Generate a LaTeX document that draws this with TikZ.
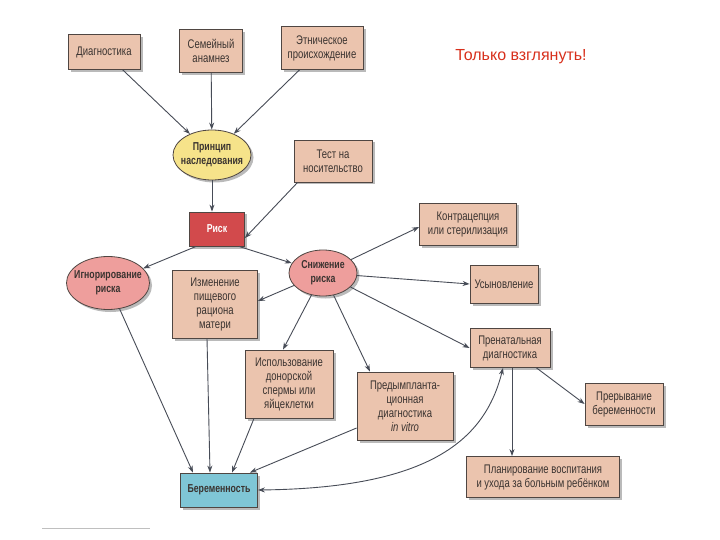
\documentclass[tikz,border=0pt]{standalone}
\usepackage{fontspec}
\setmainfont[FakeStretch=0.76]{Liberation Sans}
\newfontfamily\notefont{Liberation Sans}
\usetikzlibrary{shapes.geometric,shadows,arrows.meta,calc}
\definecolor{boxfill}{HTML}{EBC4AE}
\definecolor{boxline}{HTML}{4F4642}
\definecolor{yellowfill}{HTML}{F6E38A}
\definecolor{pinkfill}{HTML}{EE9E9C}
\definecolor{redfill}{HTML}{D24A4C}
\definecolor{bluefill}{HTML}{7FC6D6}
\definecolor{edgecol}{HTML}{474C57}
\definecolor{txt}{HTML}{3A3330}
\definecolor{notecol}{HTML}{D8301C}
\begin{document}
\begin{tikzpicture}[x=1pt,y=-1pt,
  shad/.style={drop shadow={shadow xshift=2.5pt,shadow yshift=-2.5pt,fill=black!45,opacity=0.6}},
  box/.style={draw=boxline,line width=0.8pt,fill=boxfill,shad,align=center,inner sep=1pt,
    font=\fontsize{12.5}{14}\selectfont,text=txt},
  ell/.style={ellipse,draw=boxline,line width=0.8pt,shad,inner sep=0pt},
  elltext/.style={align=center,font=\bfseries\fontsize{11.5}{14}\selectfont,text=txt},
  conn/.style={draw=edgecol,line width=0.9pt,-{Stealth[length=7pt,width=5pt]}}]
\useasboundingbox (0,0) rectangle (720,540);
\fill[white] (0,0) rectangle (720,540);

% top row
\node[box,minimum width=72pt,minimum height=35pt] (diag) at (104,52) {Диагностика};
\node[box,minimum width=63pt,minimum height=43pt] (fam) at (211,51) {Семейный\\анамнез};
\node[box,minimum width=82pt,minimum height=43pt] (eth) at (322,48) {Этническое\\происхождение};

\node[ell,fill=yellowfill,minimum width=78pt,minimum height=50pt] (princ) at (212,155) {};
\node[elltext] (princt) at (princ) {Принцип\\наследования};
\node[box,minimum width=78pt,minimum height=42pt] (test) at (333,161) {Тест на\\носительство};

\node[box,fill=redfill,minimum width=55pt,minimum height=34pt,text=white,font=\bfseries\fontsize{11.5}{14}\selectfont] (risk) at (217,229) {Риск};
\node[box,minimum width=97pt,minimum height=42pt] (cont) at (468,224) {Контрацепция\\или стерилизация};

\node[ell,fill=pinkfill,minimum width=83pt,minimum height=53pt] (ign) at (108,283) {};
\node[elltext] (ignt) at (ign) {Игнорирование\\риска};
\node[ell,fill=pinkfill,minimum width=68pt,minimum height=46pt] (snizh) at (323,273) {};
\node[elltext] (snizht) at (snizh) {Снижение\\риска};

\node[box,minimum width=85pt,minimum height=68pt] (izm) at (215,304) {Изменение\\пищевого\\рациона\\матери};
\node[box,minimum width=68pt,minimum height=38pt] (usyn) at (504,284) {Усыновление};
\node[box,minimum width=80pt,minimum height=39pt] (pren) at (510,348) {Пренатальная\\диагностика};
\node[box,minimum width=78pt,minimum height=42pt] (prer) at (624,404) {Прерывание\\беременности};
\node[box,minimum width=88pt,minimum height=68pt] (isp) at (289,384) {Использование\\донорской\\спермы или\\яйцеклетки};
\node[box,minimum width=96pt,minimum height=68pt] (pred) at (405,406) {Предымпланта-\\ционная\\диагностика\\\textit{in vitro}};
\node[box,minimum width=153pt,minimum height=41pt] (plan) at (543,477) {Планирование воспитания\\и ухода за больным ребёнком};
\node[box,fill=bluefill,minimum width=77pt,minimum height=34pt,font=\bfseries\fontsize{11.5}{14}\selectfont] (bere) at (219,490) {Беременность};

\node[font=\notefont\fontsize{16}{18}\selectfont,text=notecol] (note) at (521,57) {Только взглянуть!};

% connectors
\draw[conn] (diag) -- (princ);
\draw[conn] (fam) -- (princ);
\draw[conn] (eth) -- (princ);
\draw[conn] (princ.south) -- (princ.south |- risk.north);
\draw[conn] ([xshift=4pt]test.south west) -- ([yshift=-9pt]risk.east);
\draw[conn] ([xshift=7pt]risk.south west) -- (ign);
\draw[conn] ([xshift=-6pt]risk.south east) -- (snizh);
\draw[conn] (snizh) -- ([yshift=-3pt]cont.west);
\draw[conn] (snizh) -- (usyn.west);
\draw[conn] (snizh) -- (pren.west);
\draw[conn] (snizh) -- ([yshift=3pt]izm.east);
\draw[conn] (snizh) -- ([xshift=-6pt]isp.north);
\draw[conn] (snizh) -- ([xshift=-35pt]pred.north);
\draw[conn] (ign) -- ([xshift=-26pt]bere.north);
\draw[conn] ([xshift=-8pt]izm.south) -- ([xshift=-9pt]bere.north);
\draw[conn] ([xshift=-35pt]isp.south) -- ([xshift=13pt]bere.north);
\draw[conn] ([yshift=-22pt]pred.west) -- ([xshift=-8pt]bere.north east);
\draw[conn] (pren) -- (prer.west);
\draw[conn] ([xshift=2pt]pren.south) -- ([xshift=2pt]pren.south |- plan.north);
\draw[draw=edgecol,line width=0.9pt,{Stealth[length=7pt,width=5pt]}-{Stealth[length=7pt,width=5pt]}]
  (bere.east) .. controls (430,488) and (485,440) .. ([xshift=-7pt]pren.south);

\draw[black!25,line width=1pt] (42,528) -- (150,528);
\end{tikzpicture}
\end{document}
